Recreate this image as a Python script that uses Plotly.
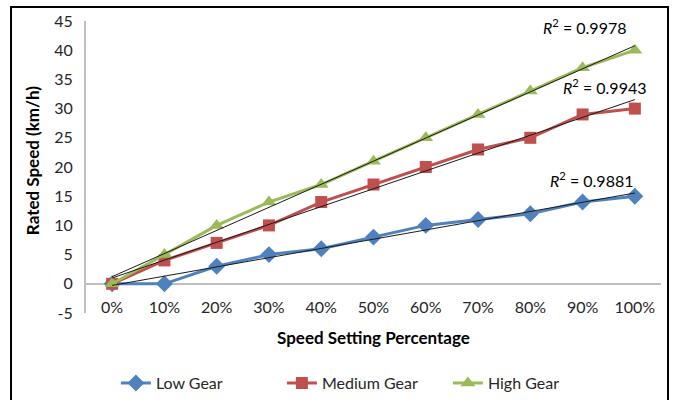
import numpy as np
import plotly.graph_objects as go

categories = ["0%", "10%", "20%", "30%", "40%", "50%", "60%", "70%", "80%", "90%", "100%"]
low_gear = [0, 0, 3, 5, 6, 8, 10, 11, 12, 14, 15]
medium_gear = [0, 4, 7, 10, 14, 17, 20, 23, 25, 29, 30]
high_gear = [0, 5, 10, 14, 17, 21, 25, 29, 33, 37, 40]
y_ticks = [-5, 0, 5, 10, 15, 20, 25, 30, 35, 40, 45]
y_ticktext = ["-5", "0", "5", "10", "15", "20", "25", "30", "35", "40", "45"]
r2_labels = ["0.9881", "0.9943", "0.9978"]
series_names = ["Low Gear", "Medium Gear", "High Gear"]
x_title = "Speed Setting Percentage"
y_title = "Rated Speed (km/h)"

colors = ["#4F81BD", "#C0504D", "#9BBB59"]
symbols = ["diamond", "square", "triangle-up"]
msizes = [13, 12, 13]
FONT = "Lato, 'Open Sans', sans-serif"

fig = go.Figure()
series = [low_gear, medium_gear, high_gear]
for name, vals, c, s, ms in zip(series_names, series, colors, symbols, msizes):
    fig.add_trace(go.Scatter(
        x=categories, y=vals, name=name, mode="lines+markers",
        line=dict(color=c, width=3), marker=dict(symbol=s, size=ms, color=c),
    ))

# linear trendlines
xi = np.arange(len(categories))
for vals in series:
    k, b = np.polyfit(xi, vals, 1)
    fig.add_trace(go.Scatter(
        x=categories, y=k * xi + b, mode="lines", showlegend=False,
        line=dict(color="#1a1a1a", width=1), hoverinfo="skip",
    ))

# R² labels
label_pos = [(9.18, 17.8), (9.43, 33.8), (9.04, 44.0)]
for (px, py), r2 in zip(label_pos, r2_labels):
    fig.add_annotation(
        x=px, y=py, xref="x", yref="y", showarrow=False,
        text=f"<i>R</i><sup>2</sup> = {r2}",
        font=dict(family=FONT, size=16, color="#000000"),
    )

# axis titles
fig.add_annotation(x=0.5, y=-0.0856, xref="paper", yref="paper", showarrow=False,
                   xanchor="center", yanchor="middle",
                   text=f"<b>{x_title}</b>", font=dict(family=FONT, size=17, color="#000"))
fig.add_annotation(x=-0.0939, y=0.52, xref="paper", yref="paper", showarrow=False,
                   xanchor="center", yanchor="middle", textangle=-90,
                   text=f"<b>{y_title}</b>", font=dict(family=FONT, size=17, color="#000"))

# outer border
fig.add_shape(type="rect", xref="paper", yref="paper",
              x0=-0.1304, x1=1.0122, y0=-0.6, y1=1.048,
              line=dict(color="#000000", width=2), layer="above")

fig.update_layout(
    width=675, height=400,
    margin=dict(l=86, r=14, t=21, b=87, autoexpand=False),
    paper_bgcolor="white", plot_bgcolor="white",
    font=dict(family=FONT, size=15, color="#1a1a1a"),
    xaxis=dict(
        type="category", range=[-0.5, 10.5], showgrid=False, showline=False,
        anchor="free", position=0.058,
        ticks="", tickfont=dict(size=16, color="#262626"), automargin=False,
    ),
    yaxis=dict(
        range=[-5, 45], tickvals=y_ticks, ticktext=y_ticktext,
        showgrid=False, showline=True, automargin=False,
        linecolor="#BFBFBF", linewidth=2,
        zeroline=True, zerolinecolor="#BFBFBF", zerolinewidth=2,
        ticks="outside", ticklen=8, tickcolor="rgba(0,0,0,0)",
        tickfont=dict(size=16, color="#262626"),
    ),
    legend=dict(orientation="h", x=0.052, xanchor="left", y=-0.24, yanchor="middle",
                font=dict(size=16, color="#262626"),
                entrywidth=121, entrywidthmode="pixels"),
    showlegend=True,
)

fig.write_html(
    "out.html",
    config={"displayModeBar": False},
    post_script="document.body.style.margin='0';document.body.style.overflow='hidden';",
)
